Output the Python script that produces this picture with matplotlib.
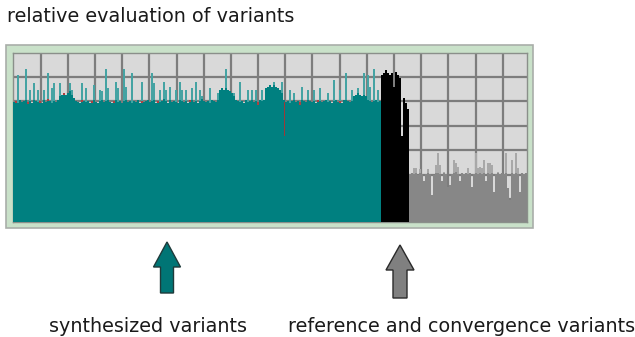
import numpy as np
import matplotlib
matplotlib.use("Agg")
import matplotlib.pyplot as plt
from matplotlib.patches import Rectangle, FancyArrow

# ---- data: relative evaluation per variant ----
teal_base = [
    74.5, 75.0, 74.0, 75.5, 74.5, 75.0, 76.0, 74.5, 75.0, 74.0, 75.5, 75.0, 74.5, 75.0, 74.0, 75.5, 74.5, 76.0, 75.0, 74.0,
    75.0, 74.5, 76.0, 78.0, 79.0, 80.0, 79.0, 80.0, 81.0, 79.0, 77.0, 75.0, 74.5, 74.0, 75.5, 75.0, 74.5, 75.0, 74.0, 75.0,
    75.5, 74.5, 74.0, 75.0, 75.5, 74.5, 75.0, 76.0, 74.5, 74.0, 75.0, 75.5, 74.5, 75.0, 74.0, 75.0, 76.0, 74.5, 75.0, 74.0,
    75.0, 74.5, 75.5, 74.0, 75.0, 74.5, 75.0, 76.0, 74.5, 75.0, 75.5, 74.0, 75.0, 74.5, 75.0, 76.5, 75.0, 74.0, 75.5, 74.5,
    75.0, 74.5, 74.0, 75.5, 75.0, 74.5, 75.0, 74.0, 75.5, 76.0, 74.5, 75.0, 74.0, 75.0, 76.5, 75.0, 74.5, 75.0, 74.0, 75.5,
    75.0, 74.5, 76.0, 82.0, 83.0, 82.0, 83.0, 82.0, 81.0, 80.0, 78.0, 75.5, 75.0, 74.5, 75.0, 74.0, 75.5, 74.5, 75.0, 76.0,
    74.5, 75.0, 74.0, 75.5, 75.0, 76.0, 83.0, 84.0, 85.0, 84.0, 85.0, 84.0, 83.0, 82.0, 80.0, 76.0, 74.5, 75.0, 74.0, 75.0,
    75.5, 74.5, 75.0, 74.0, 75.5, 75.0, 74.5, 76.0, 75.0, 74.5, 75.0, 74.0, 75.5, 75.0, 74.5, 75.0, 76.0, 74.5, 75.0, 74.0,
    75.0, 75.5, 74.5, 75.0, 74.0, 75.5, 76.0, 75.0, 74.5, 75.0, 78.0, 79.0, 80.0, 79.0, 78.0, 79.0, 78.0, 75.5, 75.0, 74.5,
    75.0, 75.5, 74.5, 75.0,
]
teal_spike_at = [2, 6, 8, 10, 12, 15, 17, 19, 20, 23, 28, 29, 34, 36, 40, 43, 44, 46, 47, 51,
                 52, 55, 56, 59, 64, 69, 70, 73, 75, 76, 78, 81, 83, 84, 86, 89, 91, 93, 94, 98,
                 102, 106, 110, 113, 117, 119, 121, 124, 130, 134, 138, 140, 144, 147, 150, 153, 157, 160, 163, 166,
                 169, 172, 175, 177, 178, 180, 182]
teal_spike_val = [91, 95, 82, 86, 82, 82, 92, 83, 86, 86, 86, 82, 86, 83, 85, 82, 81, 95, 83, 86.5,
                  83, 95, 84, 92, 86.5, 92, 86, 82, 87, 82, 84, 82, 86.5, 82, 82, 83, 86.5, 82, 78, 83,
                  80, 95, 80, 87, 82, 82, 82, 82, 87, 87, 82, 80, 84, 82, 82, 83, 80, 88, 82, 92,
                  82, 83, 92, 91, 84, 95, 82]
flagged_at = [1, 7, 13, 17, 25, 34, 39, 50, 64, 72, 88, 122, 143, 152, 163]
outlier_at = 135
outlier_range = [54, 74.5]

black_vals = [91, 92, 94, 92, 91, 92, 84, 93, 91, 89, 54, 77, 74, 70]

gray_base = [30.5, 31.0, 30.5, 31.0, 30.0, 31.0, 30.5, 26.0, 30.5, 31.0, 30.5, 17.7, 30.0, 31.0, 31.0, 30.5, 26.0, 31.0, 30.5, 22.8,
             24.0, 30.5, 31.0, 31.5, 30.5, 26.0, 31.0, 30.5, 31.0, 30.5, 31.0, 22.8, 30.5, 31.0, 30.5, 31.0, 30.5, 31.0, 26.5, 31.0,
             30.5, 31.0, 19.8, 30.5, 31.0, 30.5, 31.0, 30.5, 31.0, 22.0, 14.7, 31.0, 30.5, 31.0, 30.5, 19.8, 31.0, 30.5, 31.0]
gray_spike_at = [2, 3, 5, 9, 13, 14, 15, 17, 22, 23, 24, 29, 33, 34, 35, 36, 37, 39, 40, 41, 44, 48, 51, 53, 54]
gray_spike_val = [34, 34, 33.5, 33.5, 36, 43.3, 36, 31.5, 39.2, 37, 35, 34, 43.3, 34, 35, 34, 39, 37.5, 37.5, 36, 32, 43.3, 39, 43.3, 34]

TEAL = "#008080"
TEAL_LIGHT = "#45a3a3"
GRAY = "#878787"
GRAY_LIGHT = "#a8a8a8"

W, H = 635, 337
fig = plt.figure(figsize=(W / 100, H / 100), dpi=100)
fig.patch.set_facecolor("white")

# overlay in pixel coordinates for frame, arrows and captions
ov = fig.add_axes([0, 0, 1, 1])
ov.set_xlim(0, W)
ov.set_ylim(H, 0)
ov.axis("off")

ov.add_patch(Rectangle((6, 45), 527, 183, facecolor="#c9e1c9", edgecolor="#a9aea9", lw=1.2, zorder=1))

# plot area
L, R, T, B = 13, 527, 52.7, 222
ax = fig.add_axes([L / W, 1 - B / H, (R - L) / W, (B - T) / H], zorder=2)
ax.set_facecolor("#d9d9d9")

n_t, n_b, n_g = len(teal_base), len(black_vals), len(gray_base)
x_t = np.arange(n_t)
x_b = n_t + np.arange(n_b)
x_g = n_t + n_b + np.arange(n_g)

ax.bar(np.array(teal_spike_at) + 0.5, teal_spike_val, width=0.55, color=TEAL_LIGHT, lw=0, zorder=2)
ax.bar(x_t, teal_base, width=1.0, align="edge", color=TEAL, lw=0, zorder=3)
ax.bar(np.array(flagged_at) + 0.5, [1.3] * len(flagged_at),
       bottom=[teal_base[i] - 1.0 for i in flagged_at], width=0.6, color="#b04040", lw=0, zorder=4)
ax.bar(outlier_at + 0.5, outlier_range[1] - outlier_range[0], bottom=outlier_range[0],
       width=0.5, color="#9a3a3a", lw=0, zorder=4)

ax.bar(x_b, black_vals, width=1.0, align="edge", color="black", lw=0, zorder=3)

ax.bar(x_g[np.array(gray_spike_at)] + 0.5, gray_spike_val, width=0.55, color=GRAY_LIGHT, lw=0, zorder=2)
ax.bar(x_g, gray_base, width=1.0, align="edge", color=GRAY, lw=0, zorder=3)

total = n_t + n_b + n_g
ax.set_xlim(0, total)
ax.set_ylim(1.2, 104.7)
ax.set_xticks(np.arange(13.85, total, 13.59))
ax.set_yticks(np.arange(15, 100, 15))
ax.tick_params(length=0, labelbottom=False, labelleft=False)
ax.grid(True, color="#7d7d7d", lw=1.6)
ax.set_axisbelow(True)
for s in ax.spines.values():
    s.set_color("#8a8f8a")
    s.set_linewidth(1.0)

# captions
FS = 13.8
ov.text(7, 17, "relative evaluation of variants", fontsize=FS, color="#1a1a1a",
        ha="left", va="center", family="DejaVu Sans")
ov.text(148, 327, "synthesized variants", fontsize=FS, color="#1a1a1a",
        ha="center", va="center", family="DejaVu Sans")
ov.text(462, 326, "reference and convergence variants", fontsize=FS, color="#1a1a1a",
        ha="center", va="center", family="DejaVu Sans")

# arrows pointing up at the groups
ov.add_patch(FancyArrow(167, 293, 0, -51, width=13, head_width=27, head_length=25,
                        length_includes_head=True, facecolor="#007575", edgecolor="#1f3a3a", lw=1.0, zorder=3))
ov.add_patch(FancyArrow(400, 298, 0, -53, width=14, head_width=28, head_length=25,
                        length_includes_head=True, facecolor="#808080", edgecolor="#2a2a2a", lw=1.0, zorder=3))

fig.savefig("out.png", dpi=100, facecolor="white")
